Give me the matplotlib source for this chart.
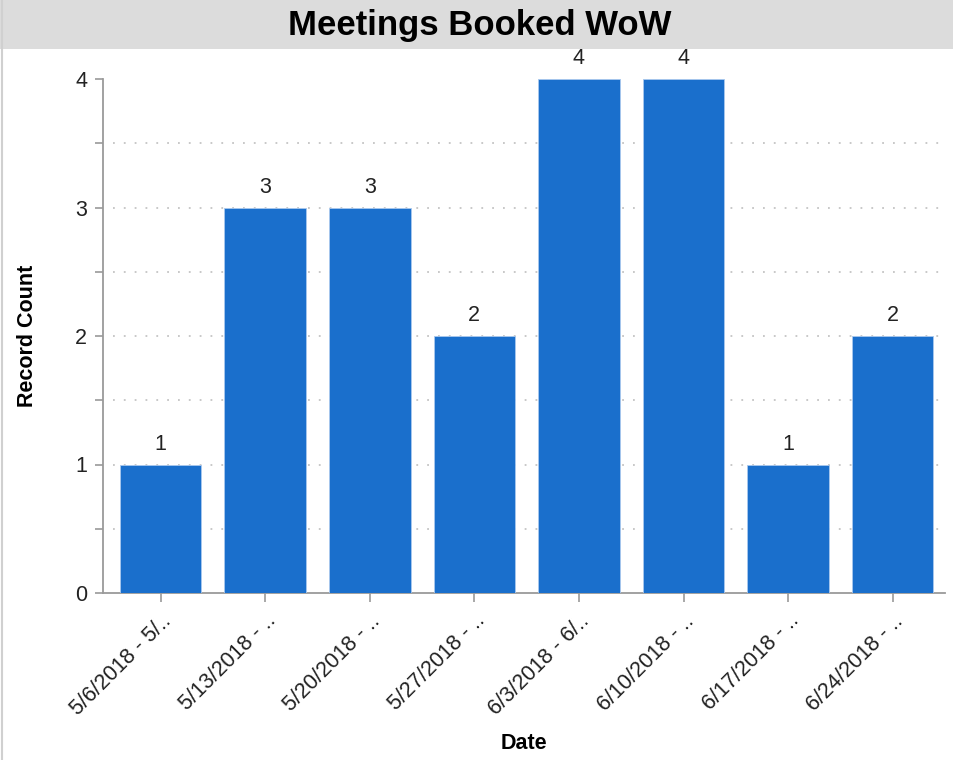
import matplotlib.pyplot as plt
from matplotlib.patches import Rectangle
from matplotlib.lines import Line2D
from matplotlib.ticker import MultipleLocator

plt.rcParams['font.family'] = ['Liberation Sans', 'DejaVu Sans']

## Data
weeks = ['5/6/2018 - 5/..', '5/13/2018 - ..', '5/20/2018 - ..', '5/27/2018 - ..',
         '6/3/2018 - 6/..', '6/10/2018 - ..', '6/17/2018 - ..', '6/24/2018 - ..']
counts = [1, 3, 3, 2, 4, 4, 1, 2]
grid_levels = [0.5, 1, 1.5, 2, 2.5, 3, 3.5]

bar_color = '#1a6fcc'
axis_color = '#9a9a9a'

fig = plt.figure(figsize=(9.54, 7.6), dpi=100)

## Title band
fig.patches.append(Rectangle((0, 1 - 49 / 760), 1, 49 / 760, transform=fig.transFigure,
                             facecolor='#dcdcdc', edgecolor='none', zorder=0))
fig.lines.append(Line2D([2 / 954, 2 / 954], [0, 1], transform=fig.transFigure,
                        color='#d0d0d0', lw=1.5))
fig.text(480 / 954, 1 - 25 / 760, 'Meetings Booked WoW', ha='center', va='center',
         fontsize=25, fontweight='bold')

ax = fig.add_axes([103 / 954, 1 - 593 / 760, (945 - 103) / 954, (593 - 79) / 760])

x = range(len(weeks))
bars = ax.bar(x, counts, width=0.78, color=bar_color, edgecolor='#a9c8ee', linewidth=0.6, zorder=3)
for b, v in zip(bars, counts):
    ax.annotate(str(v), (b.get_x() + b.get_width() / 2, v), xytext=(0, 7),
                textcoords='offset points', ha='center', va='bottom',
                fontsize=15.5, color='#222222', annotation_clip=False)

## grid (dotted, none on the top line)
ax.hlines(grid_levels, -0.45, 7.5, colors='#c4c4c4', linestyles=[(0, (1, 5))], lw=1.3, zorder=0)

## y axis
ax.set_ylim(0, 4)
ax.yaxis.set_major_locator(MultipleLocator(1))
ax.yaxis.set_minor_locator(MultipleLocator(0.5))
ax.set_ylabel('Record Count', fontsize=15.5, fontweight='bold')
ax.yaxis.set_label_coords(-0.077, 0.5)

## x axis
ax.set_xlim(-0.55, 7.5)
ax.set_xticks(list(x))
ax.set_xticklabels(weeks, rotation=45, ha='right', rotation_mode='anchor', fontsize=15.5,
                   color='#222222')
ax.set_xlabel('Date', fontsize=15.5, fontweight='bold', va='top')
ax.xaxis.set_label_coords(0.5, -0.272)

for s in ['top', 'right']:
    ax.spines[s].set_visible(False)
for s in ['left', 'bottom']:
    ax.spines[s].set_color(axis_color)
    ax.spines[s].set_linewidth(1.3)
ax.tick_params(axis='both', which='both', colors=axis_color, labelcolor='#222222', width=1.2)
ax.tick_params(axis='y', which='major', length=5.5, labelsize=15.5, pad=6)
ax.tick_params(axis='y', which='minor', length=5.5)
ax.tick_params(axis='x', length=6.5, pad=6)

fig.savefig('out.png', dpi=100)
